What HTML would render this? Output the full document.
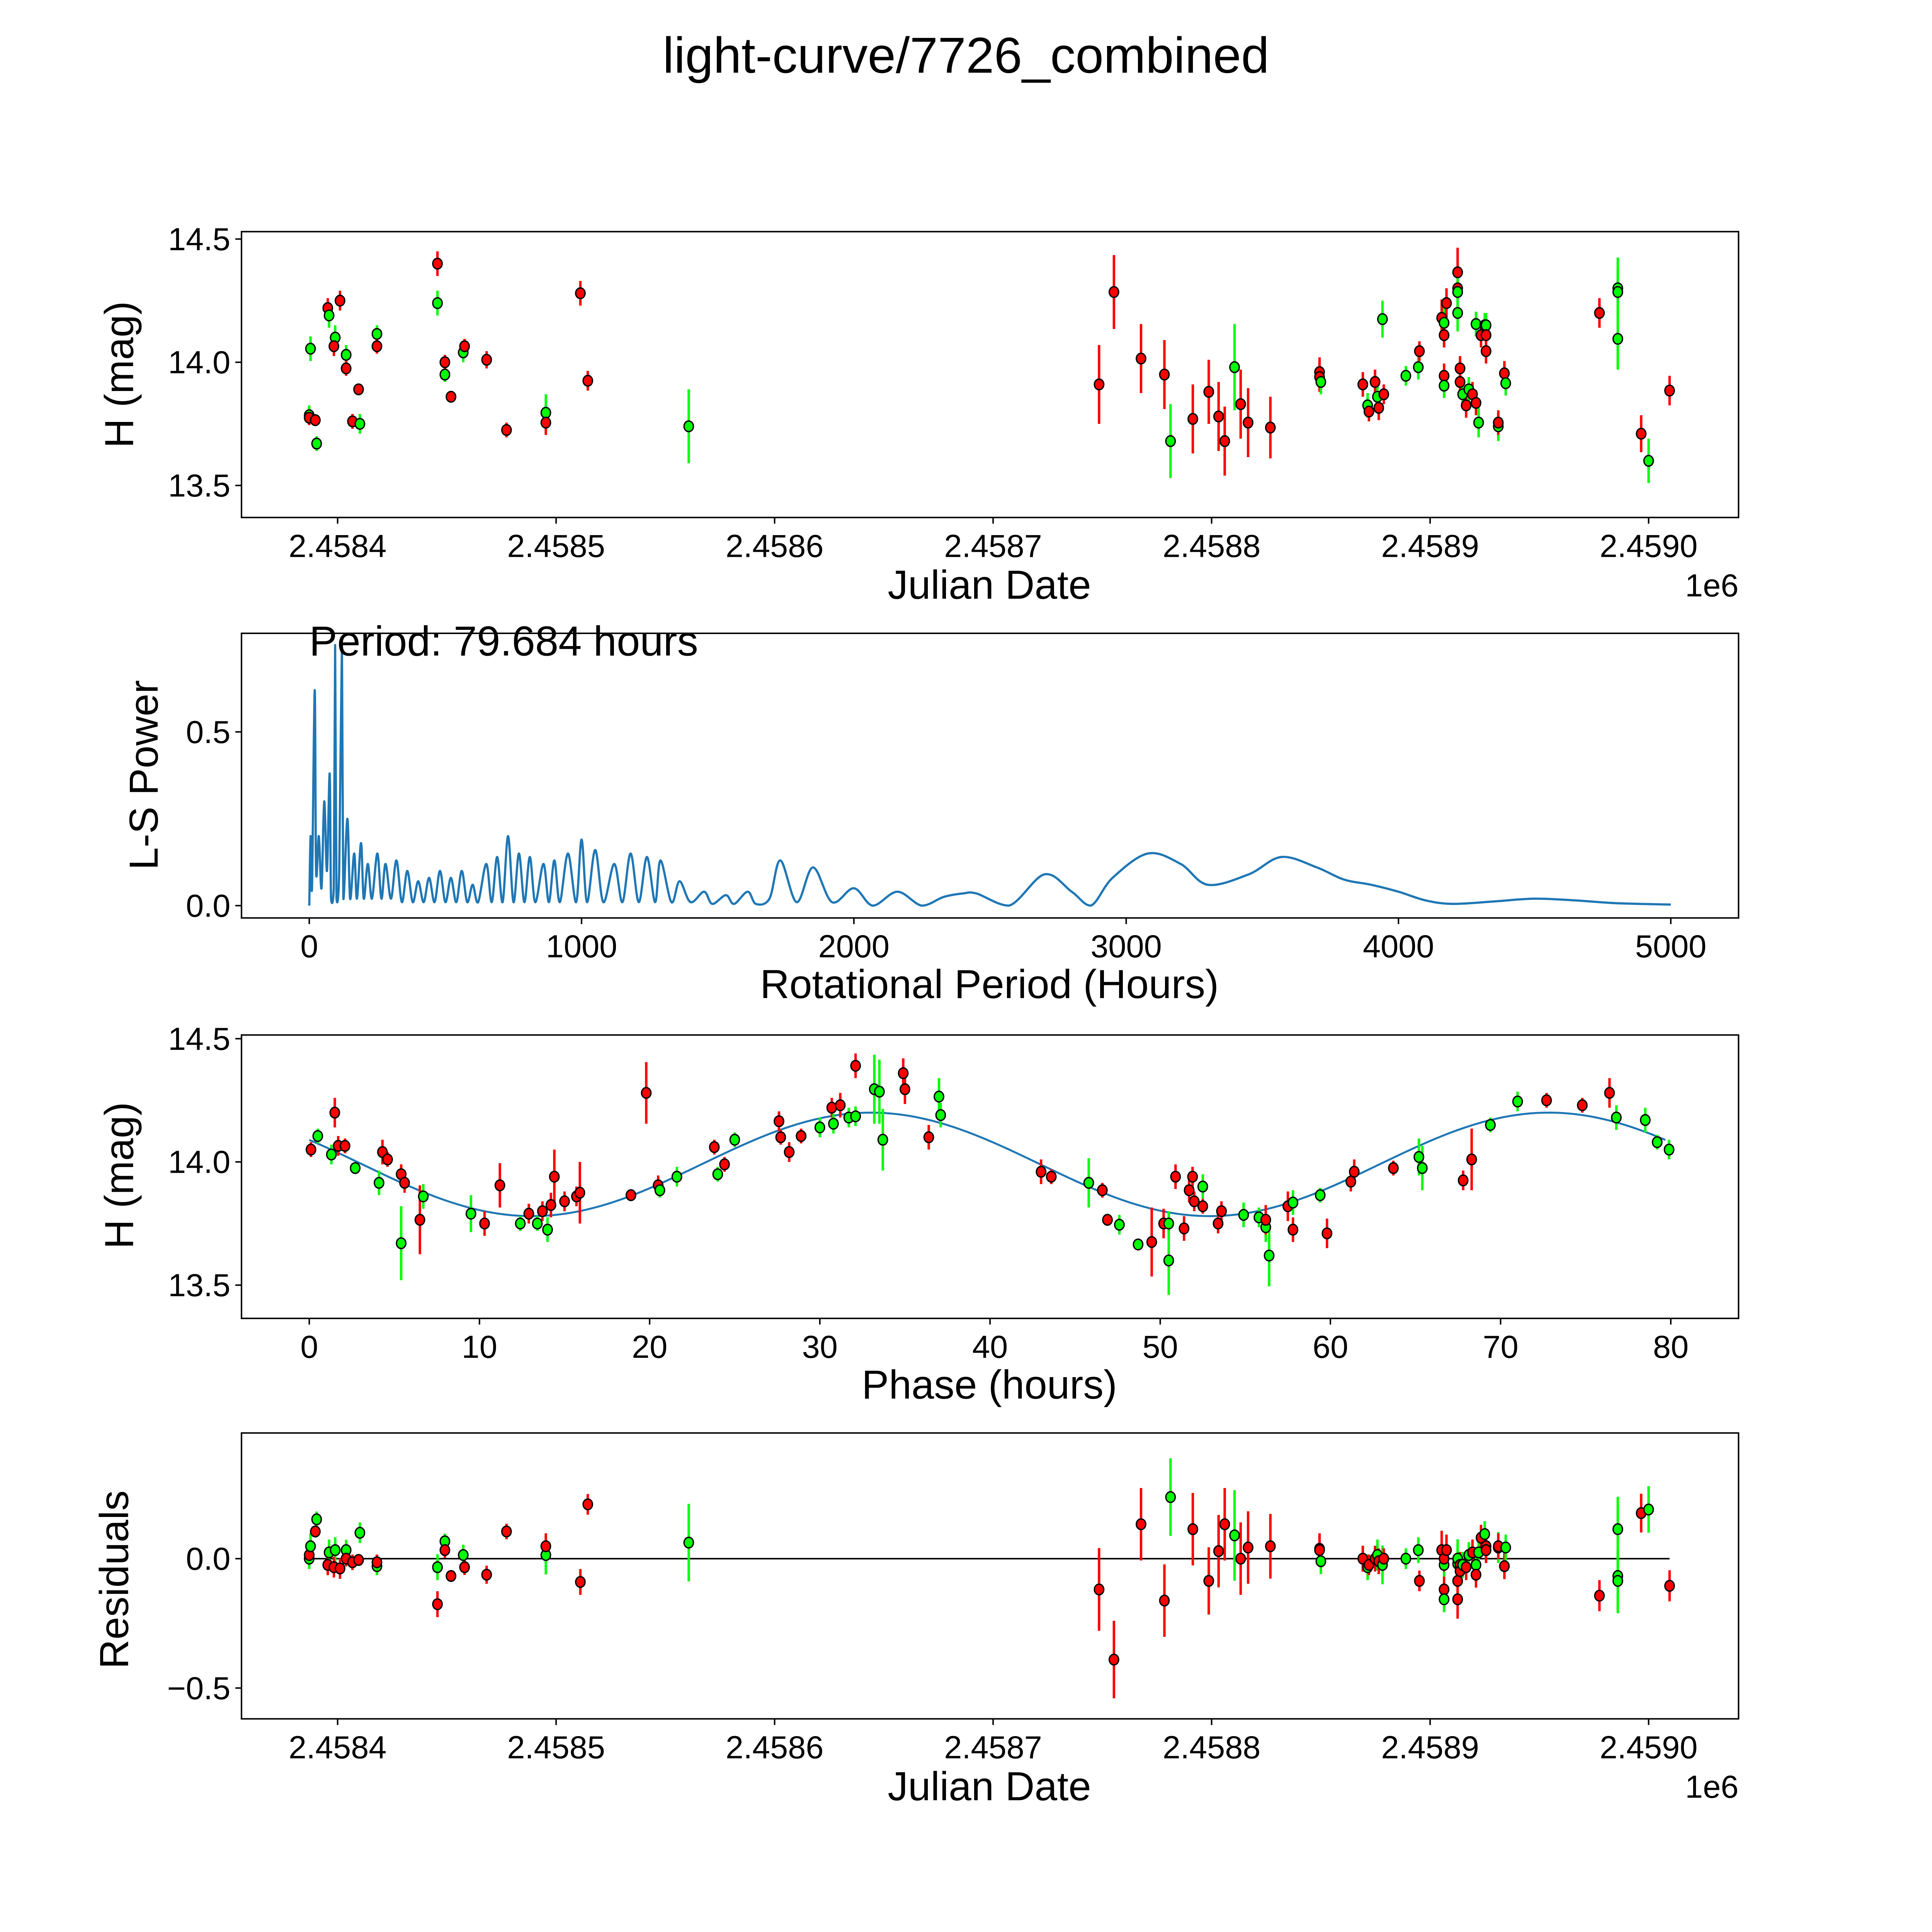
<!DOCTYPE html>
<html><head><meta charset="utf-8"><style>
html,body{margin:0;padding:0;background:#fff;overflow:hidden;width:100vw;height:100vh}
svg{display:block;width:100vw;height:100vh}
text{font-family:"Liberation Sans","DejaVu Sans",sans-serif;fill:#000}
</style></head><body>
<svg id="chart" xmlns="http://www.w3.org/2000/svg" viewBox="0 0 1568 1568" preserveAspectRatio="xMidYMid meet">
<rect x="0" y="0" width="1568" height="1568" fill="#fff"/>
<text x="784" y="59" font-size="41" text-anchor="middle">light-curve/7726_combined</text>
<g id="p1"></g>
<g id="p2"></g>
<g id="p3"></g>
<g id="p4"></g>
</svg>
<script>
// ---- data ----
// raw light curve: days since JD 2458400, H mag, error, filter (1=red,0=green)
const rawDays=[-13.0,-13.0,-12.4,-10.2,-9.6,-4.5,-3.9,-1.1,-1.7,1.1,3.9,3.9,6.8,9.6,10.2,18.0,18.0,45.7,45.7,49.1,49.1,51.9,57.5,58.1,68.2,77.3,95.3,95.3,111.1,114.5,160.7,348.5,355.3,367.7,378.4,381.2,391.4,398.7,403.2,406.0,410.5,413.3,416.7,426.9,449.4,449.4,450.0,469.2,471.4,472.0,474.8,475.9,476.5,478.2,478.8,488.9,494.6,495.1,505.3,506.4,506.4,507.5,506.4,506.4,512.6,512.6,512.6,512.6,513.7,513.7,514.9,516.5,517.7,519.4,521.0,521.0,522.2,523.3,525.0,525.6,525.6,525.6,531.2,531.2,534.0,534.6,577.5,585.9,585.9,585.9,596.6,600.0,609.6];
const rawMag=[13.785,13.775,14.055,13.765,13.67,14.22,14.19,14.10,14.065,14.25,14.03,13.975,13.76,13.89,13.75,14.115,14.065,14.24,14.40,13.95,14.00,13.86,14.04,14.065,14.01,13.725,13.795,13.755,14.28,13.925,13.74,13.91,14.285,14.015,13.95,13.68,13.77,13.88,13.78,13.68,13.98,13.83,13.755,13.735,13.96,13.94,13.92,13.91,13.825,13.80,13.92,13.86,13.815,14.175,13.87,13.945,13.98,14.045,14.18,14.16,14.11,14.24,13.945,13.905,14.365,14.30,14.285,14.20,13.975,13.92,13.87,13.825,13.89,13.87,14.155,13.835,13.755,14.11,14.15,14.15,14.11,14.045,13.74,13.755,13.955,13.915,14.20,14.30,14.285,14.095,13.71,13.60,13.885];
const rawErr=[0.04,0.03,0.05,0.02,0.03,0.04,0.05,0.05,0.04,0.04,0.04,0.03,0.03,0.02,0.04,0.035,0.03,0.05,0.05,0.03,0.03,0.02,0.04,0.03,0.035,0.03,0.075,0.05,0.05,0.04,0.15,0.16,0.15,0.14,0.14,0.15,0.14,0.13,0.14,0.14,0.175,0.14,0.14,0.125,0.06,0.06,0.05,0.05,0.05,0.04,0.05,0.06,0.05,0.075,0.04,0.04,0.05,0.04,0.075,0.075,0.05,0.06,0.05,0.05,0.1,0.075,0.075,0.075,0.05,0.05,0.05,0.05,0.05,0.05,0.05,0.05,0.06,0.05,0.05,0.05,0.05,0.05,0.06,0.05,0.05,0.05,0.06,0.125,0.1,0.125,0.075,0.09,0.06];
const rawRed=[0,1,0,1,0,1,0,0,1,1,0,1,1,1,0,0,1,0,1,0,1,1,0,1,1,1,0,1,1,1,0,1,1,1,1,0,1,1,1,1,0,1,1,1,1,1,0,1,0,1,1,0,1,0,1,0,0,1,1,0,1,1,1,0,1,1,0,0,1,1,0,1,0,1,0,1,0,1,0,0,1,1,0,1,1,0,1,0,0,0,1,0,1];
// residual for each raw observation (same order as rawDays)
const resVal=[0.0,0.014,0.048,0.105,0.152,-0.024,0.024,0.033,-0.033,-0.038,0.033,0.0,-0.014,-0.005,0.10,-0.029,-0.014,-0.033,-0.176,0.067,0.033,-0.067,0.014,-0.033,-0.062,0.105,0.014,0.048,-0.090,0.210,0.062,-0.119,-0.390,0.133,-0.162,0.238,0.114,-0.086,0.029,0.133,0.090,0.0,0.043,0.048,0.038,0.033,-0.010,0.0,-0.033,-0.024,0.0,0.014,-0.010,-0.024,0.0,0.0,0.033,-0.086,0.033,-0.024,0.0,0.033,-0.119,-0.157,-0.086,-0.157,-0.020,0.0,-0.024,-0.048,-0.024,-0.033,0.014,0.024,-0.024,-0.062,0.024,0.081,0.095,0.048,0.048,0.033,0.043,0.048,-0.029,0.043,-0.143,0.114,-0.067,-0.086,0.176,0.190,-0.105];
// periodogram
const lsPeriod=[0,5,10,20,25,35,45,55,65,75,80,90,95,100,110,120,125,140,150,165,175,190,200,215,230,250,265,280,300,320,340,360,380,400,420,440,460,480,500,520,540,560,580,600,620,650,670,690,710,730,750,770,790,810,830,860,880,900,920,950,980,1000,1020,1050,1080,1120,1150,1180,1210,1240,1270,1290,1330,1360,1400,1450,1480,1530,1560,1610,1640,1690,1730,1790,1850,1920,2000,2070,2160,2250,2330,2400,2450,2570,2700,2800,2870,2950,3080,3200,3300,3450,3570,3700,3800,3900,4000,4100,4200,4350,4500,4650,4800,5000];
const lsPower=[0,0.2,0.05,0.62,0.1,0.2,0.05,0.3,0.1,0.38,0.02,0.05,0.75,0.02,0.1,0.75,0.02,0.25,0.02,0.15,0.02,0.18,0.02,0.12,0.02,0.15,0.02,0.12,0.02,0.13,0.01,0.1,0.01,0.07,0.01,0.08,0.01,0.1,0.01,0.08,0.01,0.1,0.01,0.06,0.01,0.12,0.01,0.14,0.01,0.2,0.01,0.15,0.01,0.14,0.01,0.12,0.01,0.13,0.01,0.15,0.01,0.19,0.01,0.16,0.01,0.12,0.01,0.15,0.01,0.14,0.01,0.13,0.01,0.07,0.01,0.04,0.005,0.03,0.005,0.04,0.005,0.02,0.13,0.01,0.11,0.01,0.05,0.0,0.04,0.0,0.025,0.035,0.035,0.0,0.09,0.04,0.0,0.08,0.15,0.12,0.06,0.09,0.14,0.11,0.075,0.06,0.04,0.015,0.005,0.012,0.02,0.015,0.007,0.003];
// phase folded: phase hours, mag, err, red flag
const phHr=[0.1,0.5,1.3,1.5,1.7,2.1,2.7,4.1,4.3,4.6,5.4,5.4,5.6,6.5,6.7,9.5,10.3,11.2,12.4,12.9,13.4,13.7,14.0,14.2,14.4,15.0,15.7,15.9,18.9,19.8,20.5,20.6,21.6,23.8,24.0,24.4,25.0,27.6,27.7,28.2,28.9,30.0,30.7,30.8,31.2,31.7,32.1,32.1,33.2,33.5,33.7,35.0,34.9,36.4,37.1,37.0,43.0,43.6,45.8,46.6,46.9,47.6,48.7,49.5,50.2,50.5,50.5,50.9,51.4,51.7,51.9,52.0,52.5,52.5,53.4,53.6,54.9,55.8,56.2,56.4,56.2,57.5,57.8,57.8,59.4,59.8,61.2,61.4,63.7,65.2,65.4,67.8,68.3,69.4,71.0,72.7,74.8,76.4,76.8,78.5,79.2,79.9];
const phMag=[14.05,14.105,14.03,14.20,14.065,14.065,13.975,13.915,14.04,14.01,13.67,13.95,13.915,13.765,13.86,13.79,13.75,13.905,13.75,13.79,13.75,13.80,13.725,13.825,13.94,13.84,13.86,13.875,13.865,14.28,13.905,13.885,13.94,14.06,13.95,13.99,14.09,14.165,14.10,14.04,14.105,14.14,14.22,14.155,14.23,14.18,14.39,14.185,14.295,14.285,14.09,14.295,14.36,14.10,14.19,14.265,13.96,13.94,13.915,13.885,13.765,13.745,13.665,13.675,13.75,13.60,13.75,13.94,13.73,13.885,13.94,13.84,13.90,13.82,13.75,13.80,13.785,13.775,13.735,13.62,13.765,13.82,13.725,13.835,13.865,13.71,13.92,13.96,13.975,14.02,13.975,13.925,14.01,14.15,14.245,14.25,14.23,14.28,14.18,14.17,14.08,14.05];
const phErr=[0.03,0.03,0.04,0.06,0.04,0.03,0.02,0.05,0.05,0.03,0.15,0.04,0.04,0.14,0.05,0.075,0.05,0.09,0.03,0.04,0.03,0.04,0.05,0.05,0.11,0.04,0.04,0.125,0.02,0.125,0.04,0.03,0.04,0.03,0.03,0.03,0.03,0.04,0.03,0.04,0.03,0.04,0.04,0.04,0.05,0.04,0.05,0.04,0.14,0.13,0.125,0.06,0.06,0.05,0.05,0.075,0.05,0.03,0.1,0.03,0.02,0.04,0.02,0.14,0.06,0.14,0.05,0.05,0.05,0.05,0.04,0.04,0.05,0.03,0.04,0.04,0.05,0.04,0.06,0.125,0.06,0.06,0.05,0.05,0.03,0.06,0.04,0.05,0.03,0.075,0.09,0.04,0.125,0.03,0.04,0.03,0.03,0.06,0.05,0.05,0.03,0.04];
const phRed=[1,0,0,1,1,1,0,0,1,1,0,1,1,1,0,0,1,1,0,1,0,1,0,1,1,1,1,1,1,1,1,0,0,1,0,1,0,1,1,1,1,0,1,0,1,0,1,0,0,0,0,1,1,1,0,0,1,1,0,1,1,0,0,1,1,0,0,1,1,1,1,1,0,1,1,1,0,0,0,0,1,1,1,0,0,1,1,1,1,0,0,1,1,0,0,1,1,1,0,0,0,0];
// fitted model parameters: [mean, amplitude, period hours, peak phase]
const fitParams=[13.99,0.21,39.84,33.0];
const jdTicks=[2458400,2458500,2458600,2458700,2458800,2458900,2459000];
const jdTickLabels=["2.4584","2.4585","2.4586","2.4587","2.4588","2.4589","2.4590"];
const magTicks=[13.5,14.0,14.5];
const lsXTicks=[0,1000,2000,3000,4000,5000];
const lsYTicks=[0.0,0.5];
const phXTicks=[0,10,20,30,40,50,60,70,80];
const resYTicks=[-0.5,0.0];

const NS="http://www.w3.org/2000/svg";
const TICK=26,LAB=33;
function mk(parent,tag,attrs,txt){const e=document.createElementNS(NS,tag);for(const k in attrs)e.setAttribute(k,attrs[k]);if(txt!==undefined)e.textContent=txt;parent.appendChild(e);return e;}
function lin(d0,d1,p0,p1){return v=>p0+(v-d0)*(p1-p0)/(d1-d0);}
const L=196,R=1411;
function frame(g,top,bot){const r=mk(g,'rect',{x:L,y:top,width:R-L,height:bot-top,fill:'none',stroke:'#000','stroke-width':1.2});}
function xticks(g,bot,vals,labels,sx){vals.forEach((v,i)=>{const x=sx(v);mk(g,'line',{x1:x,x2:x,y1:bot,y2:bot+5,stroke:'#000','stroke-width':1.2});const t=mk(g,'text',{x:x,y:bot+32,'font-size':TICK,'text-anchor':'middle'},labels[i]);});}
function yticks(g,vals,labels,sy){vals.forEach((v,i)=>{const y=sy(v);mk(g,'line',{x1:L,x2:L-5,y1:y,y2:y,stroke:'#000','stroke-width':1.2});const t=mk(g,'text',{x:L-9,y:y+9,'font-size':TICK,'text-anchor':'end'},labels[i]);});}
function xlabel(g,y,s){const t=mk(g,'text',{x:803,y:y,'font-size':LAB,'text-anchor':'middle'},s);}
function ylabel(g,x,y,s){const t=mk(g,'text',{x:x,y:y,'font-size':LAB,'text-anchor':'middle',transform:`rotate(-90 ${x} ${y})`},s);}
function points(g,xs,ys,es,reds,sx,sy){
  xs.forEach((xv,i)=>{const x=sx(xv);const c=reds[i]?'#ff0000':'#00ff00';
    const l=mk(g,'line',{x1:x,x2:x,y1:sy(ys[i]+es[i]),y2:sy(ys[i]-es[i]),stroke:c,'stroke-width':2});
    
    });
  xs.forEach((xv,i)=>{const c=reds[i]?'#ff0000':'#00ff00';
    const p=mk(g,'ellipse',{cx:sx(xv),cy:sy(ys[i]),rx:3.8,ry:4.3,fill:c,stroke:'#000','stroke-width':1.1});
    
    });
}
const fmt1=v=>v.toFixed(1);
// Panel 1
(function(){const g=document.getElementById('p1');const top=188,bot=420;
const sx=lin(2458400,2459000,274,1338),sy=lin(14.5,13.5,194,394);
points(g,rawDays.map(d=>d+2458400),rawMag,rawErr,rawRed,sx,sy);
frame(g,top,bot);xticks(g,bot,jdTicks,jdTickLabels,sx);yticks(g,magTicks,magTicks.map(fmt1),sy);
xlabel(g,486,'Julian Date');ylabel(g,108,304,'H (mag)');
const o=mk(g,'text',{x:1411,y:484,'font-size':TICK,'text-anchor':'end'},'1e6');})();
// Panel 2
(function(){const g=document.getElementById('p2');const top=514,bot=745;
const sx=lin(0,5000,251,1356),sy=lin(0,1,735,453);
const P=lsPeriod.map((p,i)=>[sx(p),sy(lsPower[i])]);
let d='M'+P[0][0].toFixed(2)+' '+P[0][1].toFixed(2);
for(let i=0;i<P.length-1;i++){const p0=P[Math.max(0,i-1)],p1=P[i],p2=P[i+1],p3=P[Math.min(P.length-1,i+2)];
  const c1x=p1[0]+(p2[0]-p0[0])/6,c1y=Math.min(735,p1[1]+(p2[1]-p0[1])/6);
  const c2x=p2[0]-(p3[0]-p1[0])/6,c2y=Math.min(735,p2[1]-(p3[1]-p1[1])/6);
  d+=`C${c1x.toFixed(2)} ${c1y.toFixed(2)} ${c2x.toFixed(2)} ${c2y.toFixed(2)} ${p2[0].toFixed(2)} ${p2[1].toFixed(2)}`;}
const pl=mk(g,'path',{d:d,fill:'none',stroke:'#1f77b4','stroke-width':1.8,'stroke-linejoin':'round'});


frame(g,top,bot);xticks(g,bot,lsXTicks,lsXTicks.map(String),sx);yticks(g,lsYTicks,lsYTicks.map(fmt1),sy);
xlabel(g,810,'Rotational Period (Hours)');ylabel(g,128,629,'L-S Power');
const t=mk(g,'text',{x:251,y:532,'font-size':34},'Period: 79.684 hours');})();
// Panel 3
(function(){const g=document.getElementById('p3');const top=840,bot=1070;
const sx=lin(0,80,251,1356),sy=lin(14.5,13.5,843,1043);
let d='';for(let i=0;i<=200;i++){const t=79.68*i/200;const m=fitParams[0]+fitParams[1]*Math.cos(2*Math.PI*(t-fitParams[3])/fitParams[2]);d+=(i?'L':'M')+sx(t).toFixed(2)+' '+sy(m).toFixed(2);}
const fl=mk(g,'path',{d:d,fill:'none',stroke:'#1f77b4','stroke-width':1.6});


points(g,phHr,phMag,phErr,phRed,sx,sy);
frame(g,top,bot);xticks(g,bot,phXTicks,phXTicks.map(String),sx);yticks(g,magTicks,magTicks.map(fmt1),sy);
xlabel(g,1135,'Phase (hours)');ylabel(g,108,954,'H (mag)');})();
// Panel 4
(function(){const g=document.getElementById('p4');const top=1163,bot=1395;
const sx=lin(2458400,2459000,274,1338),sy=lin(0,-0.5,1265,1370);
const zl=mk(g,'line',{x1:sx(2458387),x2:sx(2459009.6),y1:sy(0),y2:sy(0),stroke:'#000','stroke-width':1.2});


points(g,rawDays.map(d=>d+2458400),resVal,rawErr,rawRed,sx,sy);
frame(g,top,bot);xticks(g,bot,jdTicks,jdTickLabels,sx);yticks(g,resYTicks,resYTicks.map(fmt1).map(s=>s.replace('-','\u2212')),sy);
xlabel(g,1461,'Julian Date');ylabel(g,104,1282,'Residuals');
const o=mk(g,'text',{x:1411,y:1459,'font-size':TICK,'text-anchor':'end'},'1e6');})();
</script>
</body></html>
